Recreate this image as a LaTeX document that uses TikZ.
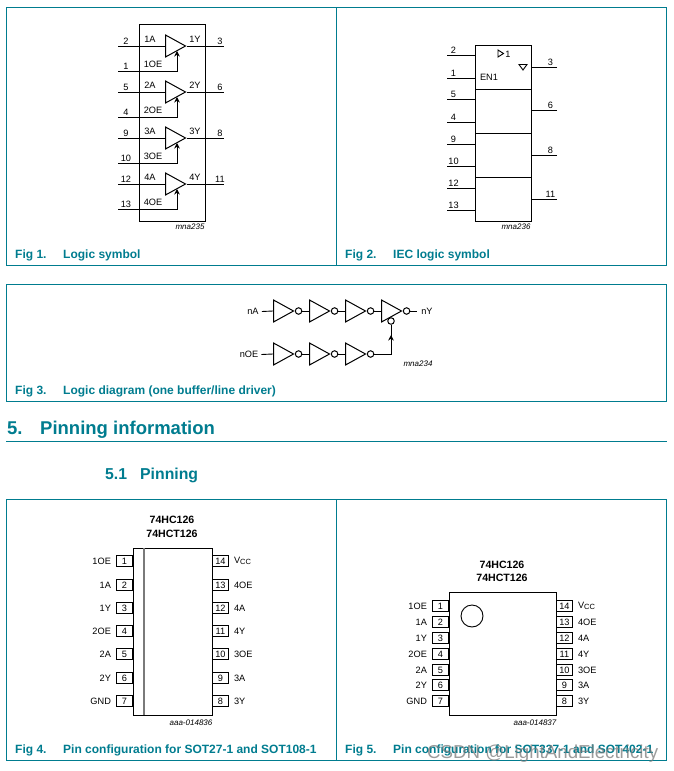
\documentclass[tikz,border=0pt]{standalone}
\usepackage{fontspec}
\setmainfont{Liberation Sans}
\usepackage{xcolor}
\usepackage{tikz}
\usetikzlibrary{shapes.geometric, arrows.meta, positioning, calc}
\definecolor{nxpteal}{HTML}{007C8F}
\definecolor{marklgray}{HTML}{7A7A7A}
\newcommand{\fsz}[1]{\fontsize{#1}{#1}\selectfont}
\newcommand{\vcc}{V{\fsz{7.5}\raisebox{-1pt}{CC}}}

\begin{document}
\begin{tikzpicture}[
    x=1pt, y=-1pt,
    every node/.style={font=\fsz{9.2}, inner sep=0pt},
    frame/.style={draw=nxpteal, line width=1pt},
    chip/.style={draw=black, line width=1.3pt},
    wire/.style={draw=black, line width=0.9pt},
    enwire/.style={
        wire,
        -{Stealth[length=5.5pt, width=5.5pt]}
    },
    buffer/.style={
        isosceles triangle,
        isosceles triangle stretches,
        shape border rotate=0,
        draw=black,
        line width=1pt,
        minimum width=22pt,
        minimum height=20pt,
        anchor=lower side
    },
    bubble/.style={
        circle,
        draw=black,
        line width=1pt,
        minimum size=6.5pt,
        anchor=west
    },
    pinbox/.style={
        rectangle,
        draw=black,
        fill=white,
        line width=0.9pt,
        minimum width=16pt,
        minimum height=11pt
    },
    caption/.style={
        font=\fsz{12}\bfseries,
        text=nxpteal,
        anchor=base west
    },
    heading/.style={
        text=nxpteal,
        anchor=base west
    },
    chipname/.style={font=\fsz{10.6}\bfseries},
    drawingid/.style={font=\fsz{8}\itshape}
]
\useasboundingbox (0,0) rectangle (673,771);

% Frames
\draw[frame] (6.5,7.5) rectangle (666.5,265);
\draw[frame] (336,7.5) -- (336,265);
\draw[frame] (6.5,284.5) rectangle (666.5,401.5);
\draw[frame] (6.5,499) rectangle (666.5,760);
\draw[frame] (336,499) -- (336,760);

% Fig 1 - logic symbol
\node[chip, rectangle, minimum width=66pt, minimum height=197pt, anchor=north west] (sym) at (139,24) {};
\foreach \i/\pa/\poe/\py/\ry in {1/2/1/3/46, 2/5/4/6/92, 3/9/10/8/138, 4/12/13/11/184} {
    \pgfmathsetmacro{\roe}{\ry+25}
    \node[buffer] (buf\i) at (165,\ry) {};
    \coordinate (a\i) at (118,\ry);
    \coordinate (y\i) at (224,\ry);
    \coordinate (oe\i) at (118,\roe);
    \coordinate (tip\i) at (177,\ry+5);
    \draw[wire] (a\i) -- (buf\i.lower side);
    \draw[wire] (buf\i.apex) -- (y\i);
    \draw[enwire] (oe\i) -| (tip\i);
    \node[above=1.5pt of a\i, xshift=8pt] (pa\i) {\pa};
    \node[above=1.5pt of oe\i, xshift=8pt] (poe\i) {\poe};
    \node[above=1.5pt of y\i, xshift=-4pt] (py\i) {\py};
    \node (la\i) at (150,\ry-7) {\i A};
    \node (ly\i) at (195,\ry-7) {\i Y};
    \node (loe\i) at (153,\roe-7) {\i OE};
}
\node[drawingid] (mna1) at (190,227) {mna235};

% Fig 2 - IEC logic symbol
\node[chip, rectangle, minimum width=56pt, minimum height=176pt, anchor=north west] (iec) at (475,45) {};
\foreach \yy in {89,133,177}
    \draw[wire] (475,\yy) -- (531,\yy);
\foreach \p/\yy in {2/55, 1/78, 5/99, 4/122, 9/144, 10/166, 12/188, 13/210} {
    \coordinate (il\p) at (447,\yy);
    \draw[wire] (il\p) -- (il\p -| iec.west);
    \node[above=1.5pt of il\p, xshift=6.5pt] (ipl\p) {\p};
}
\foreach \p/\yy in {3/67, 6/110, 8/155, 11/199} {
    \coordinate (ir\p) at (557,\yy);
    \draw[wire] (ir\p) -- (ir\p -| iec.east);
    \node[above=1.5pt of ir\p, xshift=-6.5pt] (ipr\p) {\p};
}
\draw[wire] (498,50) -- (503.5,53.5) -- (498,57) -- cycle;
\node (one) at (508,54) {1};
\draw[wire] (519,64.5) -- (527,64.5) -- (523,70) -- cycle;
\node (en) at (489,77) {EN1};
\node[drawingid] (mna2) at (516,227) {mna236};

% Fig 3 - logic diagram
\foreach \i/\xx in {1/273, 2/309, 3/345, 4/381} {
    \node[buffer] (ta\i) at (\xx,311) {};
    \node[bubble] (ba\i) at (ta\i.apex) {};
}
\foreach \i/\xx in {1/273, 2/309, 3/345} {
    \node[buffer] (te\i) at (\xx,354) {};
    \node[bubble] (be\i) at (te\i.apex) {};
}
\node (na) at (253,311.5) {nA};
\node (noe) at (249,354.5) {nOE};
\node (ny) at (427,311) {nY};
\draw[wire] (na.east) ++(3,0) -- (ta1.lower side);
\draw[wire] (noe.east) ++(3,0) -- (te1.lower side);
\draw[wire] (ba1) -- (ta2.lower side);
\draw[wire] (ba2) -- (ta3.lower side);
\draw[wire] (ba3) -- (ta4.lower side);
\draw[wire] (ba4) -- ($(ny.west)+(-4,0)$);
\draw[wire] (be1) -- (te2.lower side);
\draw[wire] (be2) -- (te3.lower side);
\node[circle, draw=black, line width=1pt, minimum size=6.5pt] (ben) at (391,321) {};
\coordinate (stem) at (391,335);
\draw[wire] (be3) -| (ben);
\draw[enwire] (391,345) -- (stem);
\node[drawingid] (mna3) at (418,364) {mna234};

% Heading
\node[heading, font=\fsz{18.5}\bfseries] (sec) at (7,434) {5.};
\node[heading, font=\fsz{18.5}\bfseries] (sectitle) at (40,434) {Pinning information};
\draw[nxpteal, line width=0.8pt] (6,441) -- (666.5,441);
\node[heading, font=\fsz{15.8}\bfseries] (sub) at (105,479) {5.1};
\node[heading, font=\fsz{15.8}\bfseries] (subtitle) at (140,479) {Pinning};

% Fig 4 - pin configuration, wide package
\node[chip, rectangle, minimum width=79pt, minimum height=167pt, anchor=north west] (dip) at (133,548) {};
\draw[marklgray, line width=1.2pt] (144,548) -- (144,715);
\node[chipname] (dipa) at (172,520) {74HC126};
\node[chipname] (dipb) at (172,534) {74HCT126};
\foreach \p/\q/\l/\r/\yy in {1/14/1OE/\vcc/561, 2/13/1A/4OE/585, 3/12/1Y/4A/608, 4/11/2OE/4Y/631, 5/10/2A/3OE/654, 6/9/2Y/3A/678, 7/8/GND/3Y/701} {
    \node[pinbox, anchor=east] (dl\p) at (133,\yy) {\p};
    \node[pinbox, anchor=west] (dr\q) at (212,\yy) {\q};
    \node[left=5pt of dl\p] (dn\p) {\l};
    \node[right=5pt of dr\q] (dn\q) {\r};
}
\node[drawingid] (aaa1) at (191,723) {aaa-014836};

% Fig 5 - pin configuration, small package
\node[chip, rectangle, minimum width=107pt, minimum height=123pt, anchor=north west] (ssop) at (449,592) {};
\node[circle, draw=black, line width=0.9pt, minimum size=22pt] (dot) at (472,616) {};
\node[chipname] (ssopa) at (502,565) {74HC126};
\node[chipname] (ssopb) at (502,578) {74HCT126};
\foreach \p/\q/\l/\r/\yy in {1/14/1OE/\vcc/606, 2/13/1A/4OE/622, 3/12/1Y/4A/638, 4/11/2OE/4Y/654, 5/10/2A/3OE/670, 6/9/2Y/3A/685, 7/8/GND/3Y/701} {
    \node[pinbox, anchor=east] (sl\p) at (449,\yy) {\p};
    \node[pinbox, anchor=west] (sr\q) at (556,\yy) {\q};
    \node[left=5pt of sl\p] (sn\p) {\l};
    \node[right=5pt of sr\q] (sn\q) {\r};
}
\node[drawingid] (aaa2) at (535,723) {aaa-014837};

% Captions
\node[caption] (c1) at (15,258) {Fig 1.};
\node[caption] (t1) at (63,258) {Logic symbol};
\node[caption] (c2) at (345,258) {Fig 2.};
\node[caption] (t2) at (393,258) {IEC logic symbol};
\node[caption] (c3) at (15,394) {Fig 3.};
\node[caption] (t3) at (63,394) {Logic diagram (one buffer/line driver)};
\node[caption] (c4) at (15,753) {Fig 4.};
\node[caption] (t4) at (63,753) {Pin configuration for SOT27-1 and SOT108-1};
\node[caption] (c5) at (345,753) {Fig 5.};
\node[caption] (t5) at (393,753) {Pin configuration for SOT337-1 and SOT402-1};

% Watermark
\node[font=\fsz{18.7}, text=marklgray, opacity=0.75, anchor=base west] (mark) at (427,758) {CSDN @LightAndElectricity};

\end{tikzpicture}
\end{document}
